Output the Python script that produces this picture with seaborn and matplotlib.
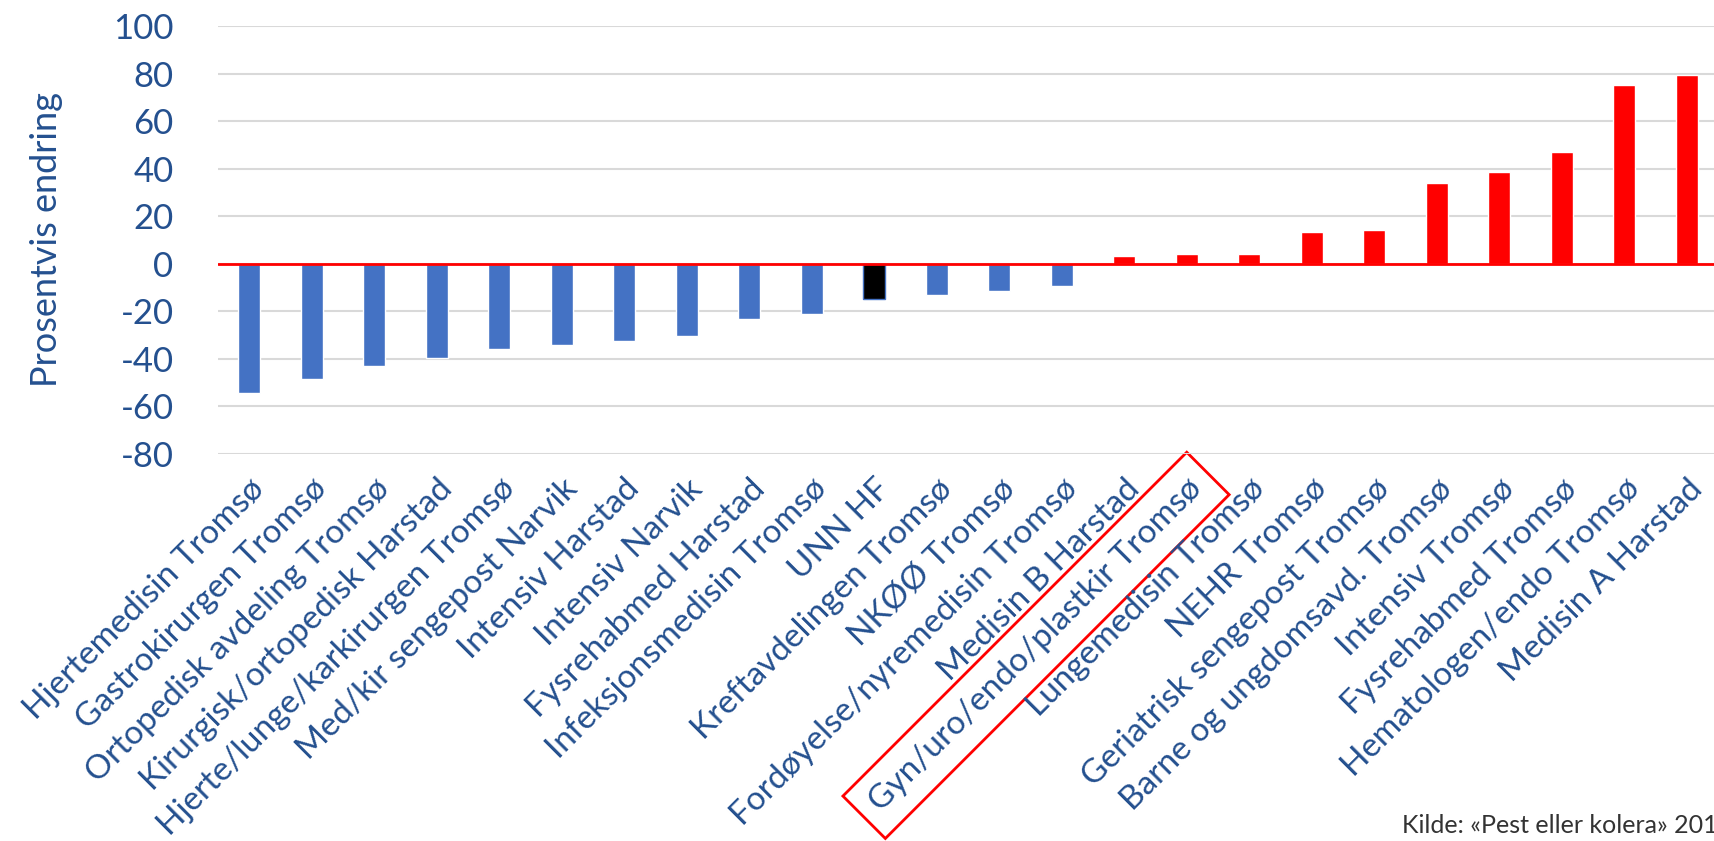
import pandas as pd
import matplotlib.pyplot as plt
import seaborn as sns

# Data
departments = [
    "Hjertemedisin Tromsø", "Gastrokirurgen Tromsø", "Ortopedisk avdeling Tromsø",
    "Kirurgisk/ortopedisk Harstad", "Hjerte/lunge/karkirurgen Tromsø",
    "Med/kir sengepost Narvik", "Intensiv Harstad", "Intensiv Narvik",
    "Fysrehabmed Harstad", "Infeksjonsmedisin Tromsø", "UNN HF",
    "Kreftavdelingen Tromsø", "NKØØ Tromsø", "Fordøyelse/nyremedisin Tromsø",
    "Medisin B Harstad", "Gyn/uro/endo/plastkir Tromsø", "Lungemedisin Tromsø",
    "NEHR Tromsø", "Geriatrisk sengepost Tromsø", "Barne og ungdomsavd. Tromsø",
    "Intensiv Tromsø", "Fysrehabmed Tromsø", "Hematologen/endo Tromsø",
    "Medisin A Harstad",
]
change_pct = [
    -54.2, -48.6, -43.2, -39.7, -35.8, -34.1, -32.3, -30.5, -23.3, -21.3, -14.9,
    -13.2, -11.3, -9.5, 3.2, 4.1, 4.1, 13.3, 14.2, 34.0, 38.7, 46.8, 75.0, 79.6,
]
total_label = "UNN HF"
highlight_label = "Gyn/uro/endo/plastkir Tromsø"
y_ticks = [-80, -60, -40, -20, 0, 20, 40, 60, 80, 100]

BLUE = "#4472C4"
RED = "#FF0000"
TEXT = "#24508F"

df = pd.DataFrame({"avdeling": departments, "endring": change_pct})
colors = []
for name, v in zip(departments, change_pct):
    if name == total_label:
        colors.append("black")
    elif v < 0:
        colors.append(BLUE)
    else:
        colors.append(RED)

sns.set_style("white")
plt.rcParams["font.family"] = ["Lato", "DejaVu Sans"]
plt.rcParams["axes.unicode_minus"] = False

fig = plt.figure(figsize=(17.14, 8.41), dpi=100)
ax = fig.add_axes([218 / 1714, 1 - 454 / 841, 1500 / 1714, 428 / 841])

sns.barplot(data=df, x="avdeling", y="endring", hue="avdeling",
            palette=colors, saturation=1, legend=False, width=0.35,
            ax=ax, zorder=3)

# blue outline on the total bar
for patch, name in zip(ax.patches, departments):
    if name == total_label:
        patch.set_edgecolor(BLUE)
        patch.set_linewidth(1)

ax.set_ylim(-80, 100)
ax.set_yticks(y_ticks)
ax.yaxis.grid(True, color="#D9D9D9", linewidth=1.5, zorder=0)
ax.set_axisbelow(True)
ax.axhline(0, color=RED, linewidth=2, zorder=4)
for s in ax.spines.values():
    s.set_visible(False)

ax.tick_params(axis="y", length=0, labelsize=25, labelcolor=TEXT, pad=32)
ax.tick_params(axis="x", length=0, labelsize=24, labelcolor=TEXT, pad=14)
ax.set_xticks(range(len(departments)))
ax.set_xticklabels(departments, rotation=45, ha="right", va="top",
                   rotation_mode="anchor")

ax.set_xlabel("")
ax.set_ylabel("Prosentvis endring", fontsize=26, color=TEXT, labelpad=36)

for lbl in ax.get_xticklabels():
    if lbl.get_text() == highlight_label:
        lbl.set_bbox(dict(boxstyle="square,pad=0.45", fc="none", ec=RED, lw=2))

fig.text(1402 / 1714, 4 / 841, "Kilde: «Pest eller kolera» 2019",
         fontsize=18, color="#333333", ha="left", va="bottom")

plt.savefig("out.png", dpi=100)
